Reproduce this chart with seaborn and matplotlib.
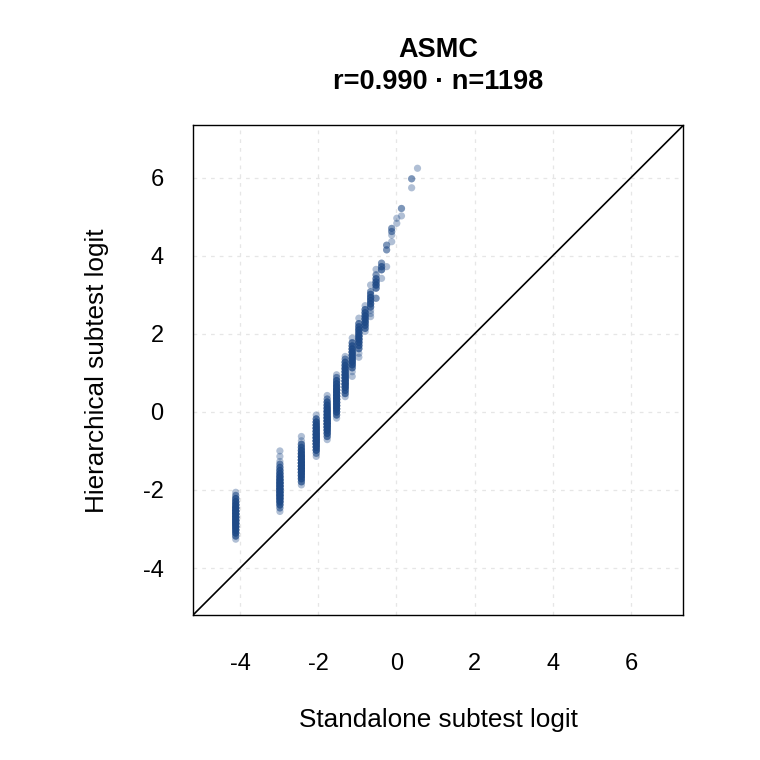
import numpy as np
import pandas as pd
import matplotlib
matplotlib.use("Agg")
import matplotlib.pyplot as plt
import seaborn as sns

# ================= DATOS =================
TITLE = "ASMC"
R_VALUE = 0.990
N_TOTAL = 1198

# columnas de puntos: una por valor discreto del logit standalone
cluster_x = [-4.11, -2.98, -2.43, -2.05, -1.77, -1.53, -1.31, -1.13, -0.96,
             -0.80, -0.66, -0.52, -0.38]

cluster_y = [
    [-3.26, -3.18, -3.10, -3.02, -2.94, -2.86, -2.78, -2.70, -2.62, -2.54, -2.46, -2.38, -2.30, -2.22, -2.14, -2.06],
    [-2.55, -2.46, -2.38, -2.30, -2.22, -2.14, -2.06, -1.98, -1.90, -1.82, -1.74, -1.66, -1.58, -1.50, -1.42, -1.34, -1.27, -1.14, -1.00],
    [-1.87, -1.79, -1.71, -1.63, -1.55, -1.47, -1.39, -1.31, -1.23, -1.15, -1.07, -0.99, -0.91, -0.83, -0.74, -0.63],
    [-1.14, -1.06, -0.98, -0.90, -0.82, -0.74, -0.66, -0.58, -0.50, -0.42, -0.34, -0.26, -0.18, -0.08],
    [-0.71, -0.63, -0.55, -0.47, -0.39, -0.31, -0.23, -0.15, -0.07, 0.01, 0.09, 0.17, 0.25, 0.33, 0.42],
    [-0.16, -0.08, 0.00, 0.08, 0.16, 0.24, 0.32, 0.40, 0.48, 0.56, 0.64, 0.72, 0.80, 0.88, 0.95],
    [0.39, 0.47, 0.55, 0.63, 0.71, 0.79, 0.87, 0.95, 1.03, 1.11, 1.19, 1.27, 1.35, 1.42],
    [0.91, 1.03, 1.13, 1.21, 1.29, 1.37, 1.45, 1.53, 1.61, 1.69, 1.77, 1.89],
    [1.40, 1.50, 1.62, 1.70, 1.78, 1.86, 1.94, 2.02, 2.10, 2.18, 2.26, 2.40],
    [2.06, 2.14, 2.22, 2.30, 2.38, 2.46, 2.54, 2.62, 2.72],
    [2.44, 2.52, 2.60, 2.69, 2.77, 2.85, 2.93, 3.01, 3.08, 3.25],
    [2.91, 3.17, 3.25, 3.33, 3.41, 3.51, 3.65],
    [3.42, 3.64, 3.72, 3.81],
]

# cuántos puntos caen (solapados) en cada posición
cluster_n = [
    [1, 3, 5, 6, 7, 8, 8, 8, 8, 8, 7, 6, 5, 4, 2, 1],
    [1, 2, 4, 6, 7, 8, 8, 8, 8, 8, 7, 6, 5, 4, 3, 2, 1, 1, 1],
    [1, 3, 5, 6, 7, 8, 8, 8, 7, 7, 6, 5, 4, 3, 1, 1],
    [1, 2, 5, 6, 7, 8, 8, 8, 7, 7, 6, 5, 3, 1],
    [1, 3, 5, 6, 7, 8, 8, 8, 7, 7, 6, 5, 4, 2, 1],
    [1, 3, 5, 6, 7, 7, 8, 8, 7, 7, 6, 5, 4, 2, 1],
    [1, 3, 4, 6, 7, 7, 7, 7, 6, 6, 5, 4, 2, 1],
    [1, 1, 3, 5, 6, 6, 6, 6, 5, 4, 3, 1],
    [1, 1, 3, 4, 5, 6, 6, 5, 5, 4, 3, 1],
    [1, 3, 4, 5, 5, 5, 4, 3, 1],
    [1, 1, 1, 3, 4, 4, 4, 3, 2, 1],
    [2, 3, 4, 4, 3, 2, 1],
    [1, 3, 3, 2],
]

# puntos sueltos de la parte alta
tail_x = [-0.25, -0.25, -0.25, -0.12, -0.12, -0.12, -0.12, 0.01, 0.01, 0.13, 0.13, 0.39, 0.39, 0.54]
tail_y = [3.72, 4.15, 4.27, 4.36, 4.53, 4.62, 4.70, 4.83, 4.96, 5.02, 5.21, 5.74, 5.97, 6.24]
tail_n = [1, 2, 2, 1, 1, 2, 2, 1, 1, 1, 2, 1, 2, 1]

AX_LIM = (-5.21, 7.34)
TICKS = [-4, -2, 0, 2, 4, 6]
POINT_COLOR = "#1f4a87"

# ================= ARMAR DATAFRAME =================
xs, ys = [], []
for cx, yl, nl in zip(cluster_x, cluster_y, cluster_n):
    for yv, nv in zip(yl, nl):
        xs += [cx] * nv
        ys += [yv] * nv
for tx, ty, tn in zip(tail_x, tail_y, tail_n):
    xs += [tx] * tn
    ys += [ty] * tn

df = pd.DataFrame({"standalone": xs, "hierarchical": ys})

# ================= PLOT =================
sns.set_style("white")
plt.rcParams['font.family'] = ['Liberation Sans', 'DejaVu Sans']
plt.rcParams['text.color'] = 'black'
plt.rcParams['axes.labelcolor'] = 'black'

fig = plt.figure(figsize=(7.6, 7.6), dpi=100)
ax = fig.add_axes([0.2536, 0.1904, 0.6455, 0.6447])

# grid punteado claro
for t in TICKS:
    ax.axvline(t, color="#e6e6e6", lw=0.9, ls=(0, (3, 4)), zorder=0)
    ax.axhline(t, color="#e6e6e6", lw=0.9, ls=(0, (3, 4)), zorder=0)

sns.scatterplot(data=df, x="standalone", y="hierarchical", color=POINT_COLOR,
                alpha=0.35, s=27, edgecolor="none", linewidth=0, ax=ax, zorder=3)

# línea identidad
ax.axline((0, 0), slope=1, color="black", lw=1.2, zorder=4)

ax.set_xlim(AX_LIM)
ax.set_ylim(AX_LIM)
ax.set_xticks(TICKS)
ax.set_yticks(TICKS)
ax.set_xticklabels([str(t) for t in TICKS])
ax.set_yticklabels([str(t) for t in TICKS])

for sp in ax.spines.values():
    sp.set_visible(True)
    sp.set_color("black")
    sp.set_linewidth(1.0)

ax.tick_params(axis="both", direction="out", length=11, width=1.0,
               color="black", labelsize=17, labelcolor="black")
ax.tick_params(axis="x", pad=16)
ax.tick_params(axis="y", pad=10)

ax.set_xlabel("Standalone subtest logit", fontsize=18.8, labelpad=24, color="black")
ax.set_ylabel("Hierarchical subtest logit", fontsize=18.8, labelpad=24, color="black")

ax.set_title(f"{TITLE}\nr={R_VALUE:.3f} · n={N_TOTAL}", fontsize=19.5,
             fontweight="bold", linespacing=1.3, pad=26, color="black")

plt.savefig("out.png", dpi=100)
plt.close()
